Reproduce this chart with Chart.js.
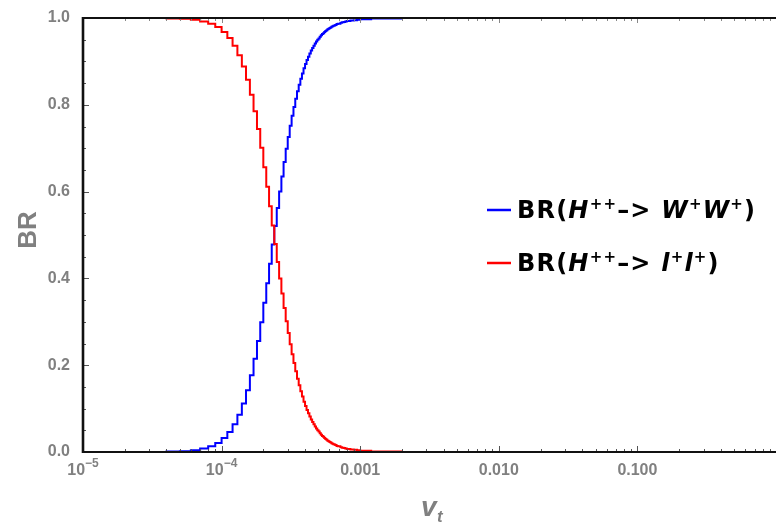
<!DOCTYPE html>
<html>
<head>
<meta charset="utf-8">
<script src="https://cdn.jsdelivr.net/npm/chart.js@4"></script>
<style>
  html, body { margin: 0; padding: 0; background: #fff; }
  canvas { display: block; }
</style>
</head>
<body>
<canvas id="br" width="776" height="526"></canvas>
<script>
// v_t sample points, in units of 1e-5 (the plot is a step plot over these)
const vtE5 = [
  1, 2, 3, 4, 5, 6, 7, 8, 9, 10,
  11, 12, 13, 14, 15, 16, 17, 18, 19, 20,
  21, 22, 23, 24, 25, 26, 27, 28, 29, 30,
  31, 32, 33, 34, 35, 36, 37, 38, 39, 40,
  41, 42, 43, 44, 45, 46, 47, 48, 49, 50,
  51, 52, 53, 54, 55, 56, 57, 58, 59, 60,
  61, 62, 63, 64, 65, 66, 67, 68, 69, 70,
  72, 74, 76, 78, 80, 85, 90, 95, 100,
  120, 150, 200, 100000
];

// BR(H++ -> W+W+)
const brWW = [
  0.000, 0.000, 0.000, 0.001, 0.002, 0.004, 0.008, 0.013, 0.021, 0.032,
  0.046, 0.064, 0.086, 0.112, 0.142, 0.177, 0.215, 0.256, 0.299, 0.344,
  0.389, 0.434, 0.478, 0.521, 0.562, 0.600, 0.635, 0.668, 0.699, 0.726,
  0.752, 0.775, 0.795, 0.814, 0.831, 0.846, 0.860, 0.872, 0.884, 0.894,
  0.903, 0.911, 0.918, 0.925, 0.931, 0.936, 0.941, 0.946, 0.950, 0.953,
  0.957, 0.960, 0.963, 0.965, 0.968, 0.970, 0.972, 0.974, 0.975, 0.977,
  0.978, 0.980, 0.981, 0.982, 0.983, 0.984, 0.985, 0.986, 0.987, 0.987,
  0.989, 0.990, 0.991, 0.992, 0.993, 0.994, 0.995, 0.996, 0.997,
  0.999, 0.999, 1.000, 1.000
];

// BR(H++ -> l+l+)
const brLL = [
  1.000, 1.000, 1.000, 0.999, 0.998, 0.996, 0.992, 0.987, 0.979, 0.968,
  0.954, 0.936, 0.914, 0.888, 0.858, 0.823, 0.785, 0.744, 0.701, 0.656,
  0.611, 0.566, 0.522, 0.479, 0.438, 0.400, 0.365, 0.332, 0.301, 0.274,
  0.248, 0.225, 0.205, 0.186, 0.169, 0.154, 0.140, 0.128, 0.116, 0.106,
  0.097, 0.089, 0.082, 0.075, 0.069, 0.064, 0.059, 0.054, 0.050, 0.047,
  0.043, 0.040, 0.037, 0.035, 0.032, 0.030, 0.028, 0.026, 0.025, 0.023,
  0.022, 0.020, 0.019, 0.018, 0.017, 0.016, 0.015, 0.014, 0.013, 0.013,
  0.011, 0.010, 0.009, 0.008, 0.007, 0.006, 0.005, 0.004, 0.003,
  0.001, 0.001, 0.000, 0.000
];

const xTickValues = [1e-5, 1e-4, 1e-3, 1e-2, 1e-1];
// [mantissa text, superscript text]
const xTickLabels = [['10', '\u22125'], ['10', '\u22124'], ['0.001', ''], ['0.010', ''], ['0.100', '']];
const yTickValues = [0, 0.2, 0.4, 0.6, 0.8, 1.0];

const FONT = '"Liberation Sans", Arial, sans-serif';
const LFONT = '"DejaVu Sans", sans-serif';
const GREY = '#808080';

function toPoints(ys) {
  return vtE5.map((k, i) => ({ x: k * 1e-5, y: ys[i] }));
}

// legend text pieces: [text, kind]
const legendRows = [
  { color: '#0000ff', parts: [
    ['BR('], ['H', 'it'], ['++', 'sup'], ['\u2013> '],
    ['W', 'it'], ['+', 'sup'], ['W', 'it'], ['+', 'sup'], [')']
  ] },
  { color: '#ff0000', parts: [
    ['BR('], ['H', 'it'], ['++', 'sup'], ['\u2013> '],
    ['l', 'it'], ['+', 'sup'], ['l', 'it'], ['+', 'sup'], [')']
  ] }
];

const frame = {
  id: 'frame',
  afterDatasetsDraw(chart) {
    const { ctx, chartArea: a, scales } = chart;
    const xs = scales.x, ys = scales.y;
    ctx.save();

    // ticks on the left axis
    ctx.strokeStyle = '#555';
    ctx.lineWidth = 1;
    for (let i = 0; i <= 20; i++) {
      const py = Math.round(ys.getPixelForValue(i * 0.05)) + 0.5;
      const len = i % 4 === 0 ? 6 : 3;
      ctx.beginPath();
      ctx.moveTo(a.left, py);
      ctx.lineTo(a.left + len, py);
      ctx.stroke();
    }

    // ticks on the bottom and top axes
    for (let e = -5; e <= 0; e++) {
      for (let m = 1; m <= 9; m++) {
        const v = m * Math.pow(10, e);
        if (v > xs.max) break;
        const px = Math.round(xs.getPixelForValue(v)) + 0.5;
        ctx.strokeStyle = '#555';
        ctx.beginPath();
        ctx.moveTo(px, a.bottom);
        ctx.lineTo(px, a.bottom - (m === 1 ? 6 : 3));
        ctx.stroke();
        ctx.strokeStyle = '#888';
        ctx.beginPath();
        ctx.moveTo(px, a.top);
        ctx.lineTo(px, a.top + (m === 1 ? 5 : 3));
        ctx.stroke();
      }
    }

    // frame
    ctx.strokeStyle = '#111';
    ctx.lineWidth = 2;
    ctx.beginPath();
    ctx.moveTo(a.left, a.top);
    ctx.lineTo(a.right, a.top);
    ctx.moveTo(a.left, a.bottom);
    ctx.lineTo(a.right, a.bottom);
    ctx.stroke();
    ctx.lineWidth = 2.6;
    ctx.beginPath();
    ctx.moveTo(a.left, a.top - 1);
    ctx.lineTo(a.left, a.bottom + 1);
    ctx.stroke();

    // x tick labels (with superscript exponents)
    ctx.fillStyle = GREY;
    ctx.textBaseline = 'alphabetic';
    ctx.textAlign = 'left';
    xTickValues.forEach((v, i) => {
      const [main, sup] = xTickLabels[i];
      ctx.font = 'bold 16px ' + FONT;
      const w1 = ctx.measureText(main).width;
      ctx.font = 'bold 12px ' + FONT;
      const w2 = sup ? ctx.measureText(sup).width : 0;
      const x0 = xs.getPixelForValue(v) - (w1 + w2) / 2;
      ctx.font = 'bold 16px ' + FONT;
      ctx.fillText(main, x0, 475);
      if (sup) {
        ctx.font = 'bold 12px ' + FONT;
        ctx.fillText(sup, x0 + w1, 467);
      }
    });

    // axis titles
    ctx.save();
    ctx.translate(36, 230);
    ctx.rotate(-Math.PI / 2);
    ctx.textAlign = 'center';
    ctx.font = 'bold 26px ' + FONT;
    ctx.fillText('BR', 0, 0);
    ctx.restore();

    ctx.textAlign = 'left';
    ctx.font = 'italic bold 28px ' + FONT;
    ctx.fillText('v', 421, 516);
    ctx.font = 'italic bold 17px ' + FONT;
    ctx.fillText('t', 437, 522);

    // legend
    const lx = 487, lw = 24, tx = 517, spacing = 1.2;
    legendRows.forEach((r, i) => {
      const base = 218 + i * 53;
      ctx.strokeStyle = r.color;
      ctx.lineWidth = 2.5;
      ctx.beginPath();
      ctx.moveTo(lx, base - 8);
      ctx.lineTo(lx + lw, base - 8);
      ctx.stroke();
      ctx.fillStyle = '#000';
      let x = tx;
      r.parts.forEach(([t, kind]) => {
        if (kind === 'sup') {
          ctx.font = 'bold 15px ' + LFONT;
        } else {
          ctx.font = (kind === 'it' ? 'italic ' : '') + 'bold 24px ' + LFONT;
        }
        for (const ch of t) {
          ctx.fillText(ch, x, kind === 'sup' ? base - 9 : base);
          x += ctx.measureText(ch).width + spacing;
        }
      });
    });

    ctx.restore();
  }
};

new Chart(document.getElementById('br'), {
  type: 'line',
  data: {
    datasets: [
      {
        label: 'BR(H++ -> W+W+)',
        data: toPoints(brWW),
        borderColor: '#0000ff',
        borderWidth: 2,
        stepped: 'before',
        pointRadius: 0,
        fill: false,
        order: 1,
      },
      {
        label: 'BR(H++ -> l+l+)',
        data: toPoints(brLL),
        borderColor: '#ff0000',
        borderWidth: 2,
        stepped: 'before',
        pointRadius: 0,
        fill: false,
        order: 0,
      },
    ],
  },
  options: {
    responsive: false,
    animation: false,
    devicePixelRatio: 1,
    parsing: false,
    layout: { padding: { top: 18, right: 0, left: 0, bottom: 0 } },
    plugins: { legend: { display: false }, tooltip: { enabled: false } },
    scales: {
      x: {
        type: 'logarithmic',
        min: 1e-5,
        max: 1,
        grid: { display: false },
        border: { display: false },
        afterBuildTicks: s => { s.ticks = xTickValues.map(v => ({ value: v })); },
        afterFit: s => { s.height = 74; },
        ticks: { display: false },
      },
      y: {
        min: 0,
        max: 1,
        grid: { display: false },
        border: { display: false },
        afterBuildTicks: s => { s.ticks = yTickValues.map(v => ({ value: v })); },
        afterFit: s => { s.width = 83; },
        ticks: {
          padding: 5,
          color: GREY,
          font: { family: FONT, size: 16, weight: 'bold' },
          callback: v => v.toFixed(1),
        },
      },
    },
  },
  plugins: [frame],
});
</script>
</body>
</html>
